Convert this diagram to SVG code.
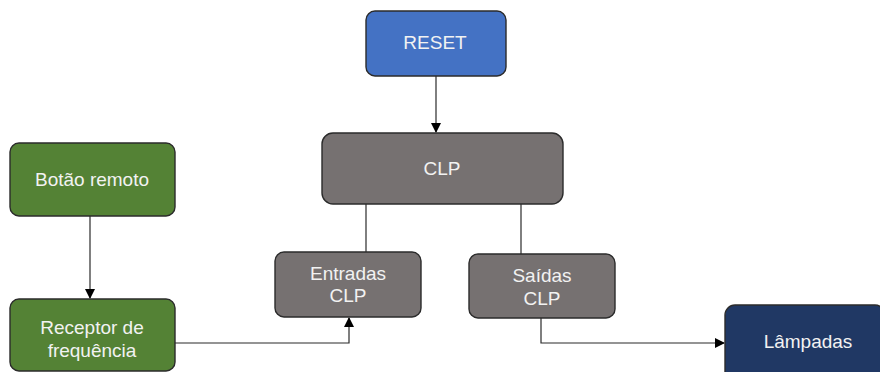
<svg xmlns="http://www.w3.org/2000/svg" width="880" height="372" viewBox="0 0 880 372">
<defs>
<style>
.n{stroke:#2b2b2b;stroke-width:1.4}
.t{font-family:"Liberation Sans",Arial,sans-serif;font-size:19px;fill:#f2f2f2;text-anchor:middle}
.c{fill:none;stroke:#2b2b2b;stroke-width:1.2}
</style>
<marker id="a" markerWidth="10" markerHeight="10" refX="9" refY="5" orient="auto" markerUnits="userSpaceOnUse"><path d="M0,0 L10,5 L0,10 Z" fill="#000"/></marker>
</defs>
<rect width="880" height="372" fill="#fff"/>
<g id="connectors">
<path class="c" d="M436,76 V132" marker-end="url(#a)"/>
<path class="c" d="M366,204 V252"/>
<path class="c" d="M521,204 V254"/>
<path class="c" d="M90,216 V298" marker-end="url(#a)"/>
<path class="c" d="M175,343 H349 V318" marker-end="url(#a)"/>
<path class="c" d="M541,318 V343 H724" marker-end="url(#a)"/>
</g>
<g id="reset"><rect class="n" x="366" y="11" width="140" height="65" rx="9" fill="#4472C4"/><text class="t" x="435" y="49">RESET</text></g>
<g id="clp"><rect class="n" x="322" y="133" width="241" height="71" rx="11" fill="#767171"/><text class="t" x="442" y="175">CLP</text></g>
<g id="botao"><rect class="n" x="10" y="143" width="165" height="73" rx="9" fill="#548235"/><text class="t" x="92" y="186">Botão remoto</text></g>
<g id="receptor"><rect class="n" x="10" y="299" width="165" height="72" rx="9" fill="#548235"/><text class="t" x="92" y="334">Receptor de</text><text class="t" x="92" y="357">frequência</text></g>
<g id="entradas"><rect class="n" x="275" y="252" width="146" height="65" rx="9" fill="#767171"/><text class="t" x="348" y="280">Entradas</text><text class="t" x="348" y="302">CLP</text></g>
<g id="saidas"><rect class="n" x="469" y="254" width="146" height="64" rx="9" fill="#767171"/><text class="t" x="542" y="282">Saídas</text><text class="t" x="542" y="305">CLP</text></g>
<g id="lampadas"><rect class="n" x="725" y="305" width="160" height="80" rx="10" fill="#203864"/><text class="t" x="808" y="348">Lâmpadas</text></g>
</svg>
